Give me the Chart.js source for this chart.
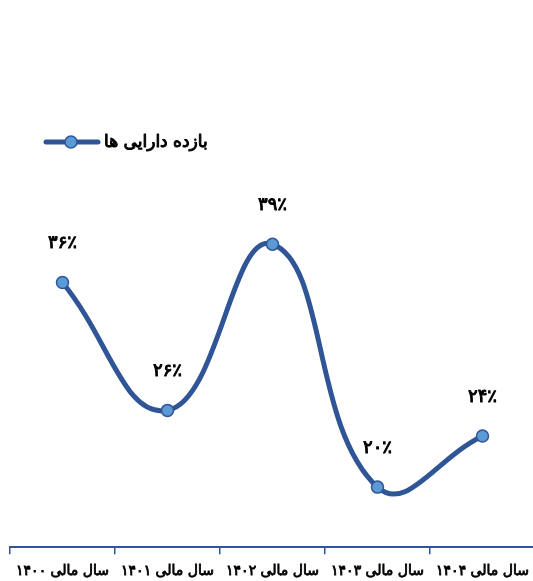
<!DOCTYPE html>
<html lang="fa">
<head>
  <meta charset="UTF-8" />
  <title>بازده دارایی ها</title>
  <script src="https://cdn.jsdelivr.net/npm/chart.js@4.4.1/dist/chart.umd.min.js"></script>
  <style>
    html, body { margin: 0; padding: 0; background: #ffffff; overflow: hidden; }
    .wrap { width: 533px; height: 581px; overflow: hidden; }
  </style>
</head>
<body>
  <div class="wrap">
    <canvas id="chart" width="545" height="594"></canvas>
  </div>

  <script>
    // chart data
    const years = ["۱۴۰۰", "۱۴۰۱", "۱۴۰۲", "۱۴۰۳", "۱۴۰۴"];
    const categories = years.map(y => "سال مالی " + y);
    const returnOnAssets = [36, 26, 39, 20, 24];
    const seriesName = "بازده دارایی ها";

    const lineColor = "#2F5597";
    const pointFill = "#5B9BD5";
    // regular DejaVu has the full persian glyph set, bold is faked with a stroke
    const fontFamily = "'DejaVu Sans', sans-serif";

    // western digits -> persian digits
    function toFa(n) {
      return String(n).replace(/[0-9]/g, d => "۰۱۲۳۴۵۶۷۸۹"[d]);
    }

    function boldText(ctx, text, x, y, stroke) {
      ctx.lineWidth = stroke;
      ctx.strokeStyle = ctx.fillStyle;
      ctx.lineJoin = "round";
      ctx.strokeText(text, x, y);
      ctx.fillText(text, x, y);
    }

    // value labels above each point
    const valueLabels = {
      id: "valueLabels",
      afterDatasetsDraw(chart) {
        const ctx = chart.ctx;
        const meta = chart.getDatasetMeta(0);
        ctx.save();
        ctx.font = "18px " + fontFamily;
        ctx.fillStyle = "#000";
        ctx.textAlign = "center";
        ctx.textBaseline = "middle";
        meta.data.forEach((pt, i) => {
          boldText(ctx, toFa(returnOnAssets[i]) + "٪", pt.x, pt.y - 39, 1);
        });
        ctx.restore();
      }
    };

    // legend: line with marker, text to the right
    const lineLegend = {
      id: "lineLegend",
      afterDraw(chart) {
        const ctx = chart.ctx;
        const ds = chart.data.datasets[0];
        const y = 142;
        ctx.save();
        ctx.strokeStyle = ds.borderColor;
        ctx.lineWidth = ds.borderWidth;
        ctx.lineCap = "round";
        ctx.beginPath();
        ctx.moveTo(46, y);
        ctx.lineTo(98, y);
        ctx.stroke();
        ctx.beginPath();
        ctx.arc(71, y, ds.pointRadius, 0, Math.PI * 2);
        ctx.fillStyle = ds.pointBackgroundColor;
        ctx.fill();
        ctx.lineWidth = ds.pointBorderWidth;
        ctx.strokeStyle = ds.pointBorderColor;
        ctx.stroke();
        ctx.font = "17px " + fontFamily;
        ctx.fillStyle = "#000";
        ctx.textAlign = "left";
        ctx.textBaseline = "middle";
        boldText(ctx, ds.label, 104, y + 1, 1);
        ctx.restore();
      }
    };

    new Chart(document.getElementById("chart"), {
      type: "line",
      data: {
        labels: categories,
        datasets: [{
          label: seriesName,
          data: returnOnAssets,
          borderColor: lineColor,
          borderWidth: 5,
          tension: 0.45,
          pointRadius: 6,
          pointBackgroundColor: pointFill,
          pointBorderColor: lineColor,
          pointBorderWidth: 1.5,
          clip: false
        }]
      },
      options: {
        responsive: false,
        devicePixelRatio: 1,
        animation: false,
        layout: { padding: { top: 170, left: 10, right: 10, bottom: 5 } },
        plugins: {
          legend: { display: false },
          tooltip: { enabled: false }
        },
        scales: {
          x: {
            offset: true,
            grid: {
              offset: true,
              drawOnChartArea: false,
              drawTicks: true,
              tickLength: 7,
              color: lineColor,
              lineWidth: 1.5
            },
            border: { display: true, color: lineColor, width: 2 },
            ticks: {
              autoSkip: false,
              maxRotation: 0,
              color: "#000",
              padding: 9,
              textStrokeColor: "#000",
              textStrokeWidth: 0.8,
              font: { family: fontFamily, size: 14 }
            }
          },
          y: {
            display: false,
            min: 15.3,
            max: 44.8
          }
        }
      },
      plugins: [valueLabels, lineLegend]
    });
  </script>
</body>
</html>
